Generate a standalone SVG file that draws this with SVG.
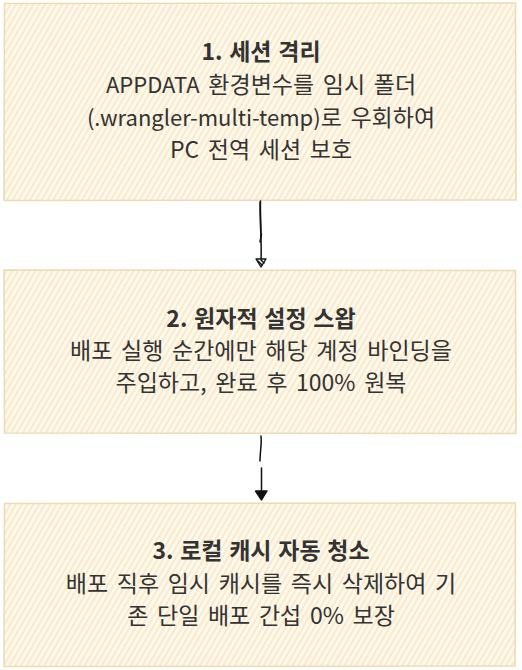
<svg xmlns="http://www.w3.org/2000/svg" width="522" height="670" viewBox="0 0 522 670">
  <defs>
    <pattern id="hatch" patternUnits="userSpaceOnUse" width="5" height="5" patternTransform="rotate(-60)">
      <rect width="5" height="5" fill="#fef9ef"/>
      <rect y="0" width="5" height="2.1" fill="#f9eaca"/>
    </pattern>
    <style>
      .box { fill: url(#hatch); stroke: #ecdcb6; stroke-width: 1.6; }
      .t { font-family: "Noto Sans CJK KR", "Noto Sans", sans-serif; font-size: 23px; fill: #333333; text-anchor: middle; word-spacing: 3.5px; }
      .b { font-weight: bold; word-spacing: 1.5px; }
      .lat { font-size: 22px; }
      .ln { fill: none; stroke: #111111; stroke-width: 1.5; stroke-linecap: round; }
      .hd-open { fill: #ffffff; stroke: #111111; stroke-width: 1.4; stroke-linejoin: round; }
      .hd-fill { fill: #111111; stroke: #111111; stroke-width: 1.4; stroke-linejoin: round; }
    </style>
  </defs>
  <rect width="522" height="670" fill="#ffffff"/>

  <g id="node1">
    <path class="box" d="M4.5 3.5 L515.5 3 L516 200 L4 200.5 Z"/>
    <text class="t b" x="261" y="60">1. 세션 격리</text>
    <text class="t" x="261" y="93"><tspan class="lat">APPDATA</tspan> 환경변수를 임시 폴더</text>
    <text class="t" x="261" y="126"><tspan class="lat">(.wrangler-multi-temp)</tspan>로 우회하여</text>
    <text class="t" x="261" y="158">PC 전역 세션 보호</text>
  </g>

  <g id="node2">
    <path class="box" d="M4 270 L515.5 270.5 L516 433.5 L4.5 433 Z"/>
    <text class="t b" x="261" y="327">2. 원자적 설정 스왑</text>
    <text class="t" x="261" y="359">배포 실행 순간에만 해당 계정 바인딩을</text>
    <text class="t" x="261" y="391">주입하고, 완료 후 100% 원복</text>
  </g>

  <g id="node3">
    <path class="box" d="M4.5 503.5 L515.5 503 L515 666 L4 666.5 Z"/>
    <text class="t b" x="261" y="559">3. 로컬 캐시 자동 청소</text>
    <text class="t" x="261" y="592">배포 직후 임시 캐시를 즉시 삭제하여 기</text>
    <text class="t" x="261" y="624">존 단일 배포 간섭 0% 보장</text>
  </g>

  <g id="connectors">
    <path class="ln" d="M260.5 201 C260 215 261.5 228 261 238 M260 202 C259.5 220 262 240 261 262"/>
    <path class="ln" d="M261.5 234 L260 242"/>
    <path class="hd-open" d="M256 259 L266 259 L261 267 Z"/>
    <path class="ln" d="M258 261 L262 265 M261 260 L264 263"/>
    <path class="ln" d="M261 436 C262 443 260 452 260 461 M261.5 468 L261.5 492"/>
    <path class="hd-fill" d="M255.5 491 L267 491 L261.5 500 Z"/>
  </g>
</svg>
